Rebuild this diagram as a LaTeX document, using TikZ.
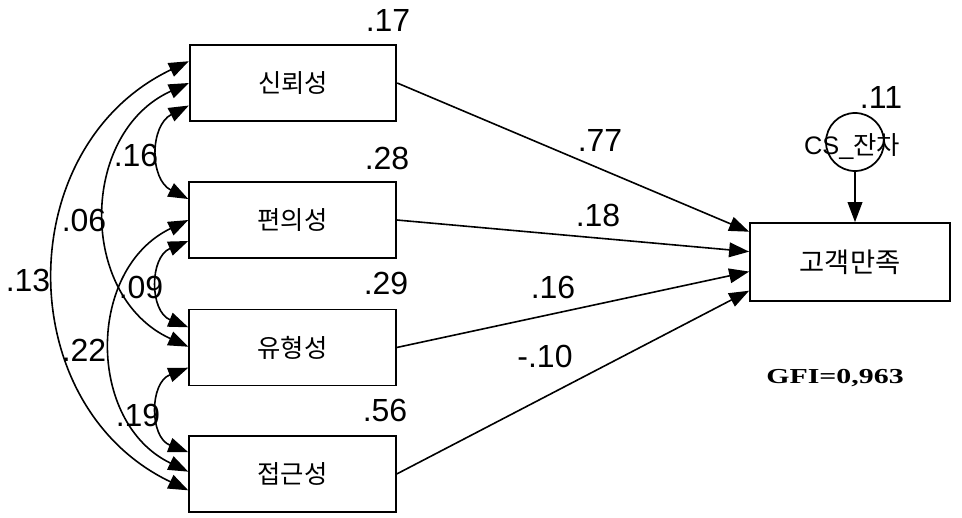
\documentclass[tikz,border=0pt]{standalone}
\usepackage{fontspec}
\setmainfont{Liberation Sans}
\newfontfamily\kr{Noto Sans CJK KR}
\newfontfamily\gfifont{Liberation Serif}
\usetikzlibrary{arrows.meta,calc}
\begin{document}
\begin{tikzpicture}[x=0.75pt,y=-0.75pt,
  line width=1.2pt,
  tip/.tip={Triangle[length=15pt,width=11pt]},
  box/.style={draw,line width=1.3pt,minimum width=155pt,minimum height=57pt,inner sep=0pt,font=\kr\fontsize{19}{21}\selectfont},
  rbox/.style={draw,line width=1.3pt,minimum width=150pt,minimum height=58.5pt,inner sep=0pt,font=\kr\fontsize{20.5}{22}\selectfont},
  num/.style={inner sep=0pt,font=\fontsize{24}{26}\selectfont},
  path/.style={-tip},
  cov/.style={tip-tip},
]
\useasboundingbox (0,0) rectangle (962,517);

% boxes
\node[box] (b1) at (293,83) {신뢰성};
\node[box] (b2) at (292.5,220) {편의성};
\node[box] (b3) at (292.5,347.5) {유형성};
\node[box] (b4) at (292.5,474) {접근성};
\node[rbox] (cs) at (850,262) {고객만족};

% residual
\node[draw,circle,line width=1.3pt,minimum size=43.5pt,inner sep=0pt] (e) at (855,142) {};
\node[inner sep=0pt,font=\fontsize{19}{21}\selectfont] (elab) at (852,147) {CS\_{\kr 잔차}};
\draw[path] (e.south) -- (cs.north -| e.south);

% anchor coordinates on the right box
\coordinate (r1) at ($(cs.north west)!0.12!(cs.south west)$);
\coordinate (r2) at ($(cs.north west)!0.37!(cs.south west)$);
\coordinate (r3) at ($(cs.north west)!0.62!(cs.south west)$);
\coordinate (r4) at ($(cs.north west)!0.86!(cs.south west)$);

\draw[path] (b1.east) -- (r1);
\draw[path] (b2.east) -- (r2);
\draw[path] (b3.east) -- (r3);
\draw[path] (b4.east) -- (r4);

% anchor coordinates on the left sides
\coordinate (b1a) at ($(b1.north west)!0.22!(b1.south west)$);
\coordinate (b1b) at ($(b1.north west)!0.50!(b1.south west)$);
\coordinate (b1c) at ($(b1.north west)!0.79!(b1.south west)$);
\coordinate (b2a) at ($(b2.north west)!0.23!(b2.south west)$);
\coordinate (b2b) at ($(b2.north west)!0.50!(b2.south west)$);
\coordinate (b2c) at ($(b2.north west)!0.77!(b2.south west)$);
\coordinate (b3a) at ($(b3.north west)!0.24!(b3.south west)$);
\coordinate (b3b) at ($(b3.north west)!0.49!(b3.south west)$);
\coordinate (b3c) at ($(b3.north west)!0.76!(b3.south west)$);
\coordinate (b4a) at ($(b4.north west)!0.22!(b4.south west)$);
\coordinate (b4b) at ($(b4.north west)!0.47!(b4.south west)$);
\coordinate (b4c) at ($(b4.north west)!0.71!(b4.south west)$);

% covariances
\draw[cov] (b1c) .. controls ($(b1c)+(-39,20)$) and ($(b2a)+(-39,-20)$) .. (b2a);
\draw[cov] (b1b) .. controls ($(b1b)+(-110,50)$) and ($(b3b)+(-110,-50)$) .. (b3b);
\draw[cov] (b1a) .. controls ($(b1a)+(-178,85)$) and ($(b4c)+(-178,-85)$) .. (b4c);
\draw[cov] (b2c) .. controls ($(b2c)+(-39,16)$) and ($(b3a)+(-39,-16)$) .. (b3a);
\draw[cov] (b2b) .. controls ($(b2b)+(-102,49)$) and ($(b4b)+(-102,-49)$) .. (b4b);
\draw[cov] (b3c) .. controls ($(b3c)+(-39,15)$) and ($(b4a)+(-39,-15)$) .. (b4a);

% numbers
\node[num] (n1) at (388,20) {.17};
\node[num] (n2) at (387,158) {.28};
\node[num] (n3) at (386,283) {.29};
\node[num] (n4) at (385,410) {.56};
\node[num] (ncs) at (881,97) {.11};
\node[num] (p1) at (600,140) {.77};
\node[num] (p2) at (598,215) {.18};
\node[num] (p3) at (553,287) {.16};
\node[num] (p4) at (545,356) {-.10};
\node[num] (c12) at (136,155) {.16};
\node[num] (c13) at (84,220) {.06};
\node[num] (c14) at (28,280) {.13};
\node[num] (c23) at (141,287) {.09};
\node[num] (c24) at (84,350) {.22};
\node[num] (c34) at (138,415) {.19};

\node[inner sep=0pt,xscale=1.4,font=\gfifont\bfseries\fontsize{16}{18}\selectfont] (gfi) at (835,378) {GFI=0,963};
\end{tikzpicture}
\end{document}
